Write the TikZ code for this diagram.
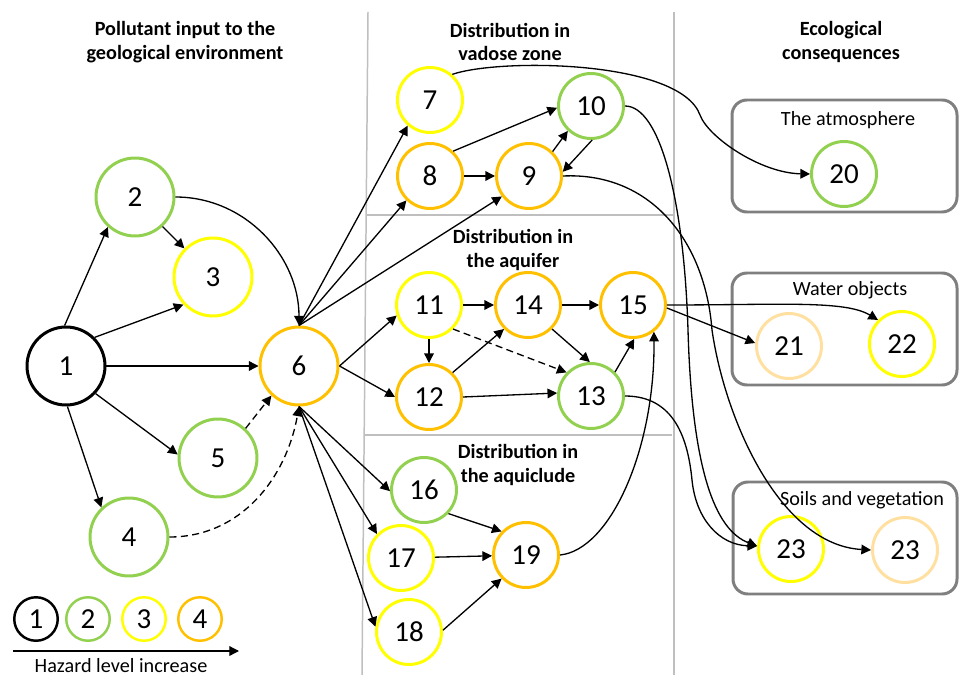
\documentclass[tikz,border=0pt]{standalone}
\usepackage{fontspec}
\setmainfont{Carlito}
\usetikzlibrary{arrows.meta}

\definecolor{hzgreen}{HTML}{92D050}
\definecolor{hzyellow}{HTML}{FFFF00}
\definecolor{hzorange}{HTML}{FFC000}
\definecolor{hzpale}{HTML}{FFE0A0}
\definecolor{boxgray}{HTML}{7F7F7F}
\definecolor{sepgray}{HTML}{BFBFBF}

\begin{document}
\begin{tikzpicture}[x=0.02cm, y=0.02cm,
    big/.style={circle, draw, line width=1.7pt, minimum size=1.56cm, inner sep=0pt, font=\fontsize{16.5}{18}\selectfont},
    mid/.style={big, minimum size=1.3cm},
    leg/.style={big, line width=1.4pt, minimum size=0.87cm},
    lvl1/.style={draw=black},
    lvl2/.style={draw=hzgreen},
    lvl3/.style={draw=hzyellow},
    lvl4/.style={draw=hzorange},
    pale/.style={draw=hzpale},
    edge/.style={-{Triangle[length=5.5pt,width=5.5pt]}, line width=0.75pt},
    weak/.style={edge, dash pattern=on 4pt off 2.5pt},
    heading/.style={align=center, font=\fontsize{11.5}{13.6}\selectfont\bfseries},
    boxlabel/.style={font=\fontsize{11.5}{13.6}\selectfont},
    zone/.style={draw=boxgray, line width=1.7pt, rounded corners=0.3cm},
    sep/.style={draw=sepgray, line width=0.85pt}]
    \useasboundingbox (0,0) rectangle (959,-675);
    % Columns
    \draw[sep] (368,-12) -- (362,-675);
    \draw[sep] (674,-12) -- (674,-675);
    \draw[sep] (367,-215) -- (673,-215);
    \draw[sep] (365,-435) -- (672,-435);
    \node[heading] (hinput) at (185,-42) {Pollutant input to the\\geological environment};
    \node[heading] (hvadose) at (510,-42) {Distribution in\\vadose zone};
    \node[heading] (hecol) at (841,-42) {Ecological\\consequences};
    \node[heading] (haquifer) at (513,-250) {Distribution in\\the aquifer};
    \node[heading] (haquiclude) at (518,-465) {Distribution in\\the aquiclude};
    % Receivers
    \draw[zone] (732,-100) rectangle (957,-212);
    \draw[zone] (732,-273) rectangle (957,-385);
    \draw[zone] (733,-482) rectangle (957,-594);
    \node[boxlabel] (atmo) at (848,-120) {The atmosphere};
    \node[boxlabel] (water) at (850,-290) {Water objects};
    \node[boxlabel] (soils) at (862,-500) {Soils and vegetation};
    % Nodes
    \node[big, lvl1] (1) at (66,-366) {1};
    \node[big, lvl2] (2) at (135,-197) {2};
    \node[big, lvl3] (3) at (213,-277) {3};
    \node[big, lvl2] (4) at (129,-537) {4};
    \node[big, lvl2] (5) at (218,-458) {5};
    \node[big, lvl4] (6) at (299,-366) {6};
    \node[mid, lvl3] (7) at (430,-100) {7};
    \node[mid, lvl4] (8) at (430,-176) {8};
    \node[mid, lvl4] (9) at (529,-176) {9};
    \node[mid, lvl2] (10) at (591,-106) {10};
    \node[mid, lvl3] (11) at (429,-305) {11};
    \node[mid, lvl4] (12) at (429,-397) {12};
    \node[mid, lvl2] (13) at (591,-396) {13};
    \node[mid, lvl4] (14) at (528,-305) {14};
    \node[mid, lvl4] (15) at (633,-305) {15};
    \node[mid, lvl2] (16) at (424,-490) {16};
    \node[mid, lvl3] (17) at (401,-558) {17};
    \node[mid, lvl3] (18) at (409,-632) {18};
    \node[mid, lvl4] (19) at (526,-555) {19};
    \node[mid, lvl2] (20) at (844,-174) {20};
    \node[mid, pale] (21) at (789,-346) {21};
    \node[mid, lvl3] (22) at (902,-344) {22};
    \node[mid, lvl3] (23a) at (791,-549) {23};
    \node[mid, pale] (23b) at (905,-550) {23};
    % Legend
    \node[leg, lvl1] (l1) at (36,-619) {1};
    \node[leg, lvl2] (l2) at (88,-619) {2};
    \node[leg, lvl3] (l3) at (144,-619) {3};
    \node[leg, lvl4] (l4) at (200,-619) {4};
    \coordinate (hzstart) at (13,-651);
    \coordinate (hzend) at (239,-651);
    \draw[edge] (hzstart) -- (hzend);
    \node[boxlabel, anchor=base] (hzlabel) at (121,-672) {Hazard level increase};
    % Edges
    \draw[edge] (1.92) -- (2.228);
    \draw[edge] (1.45) -- (3.223);
    \draw[edge] (1) -- (6);
    \draw[edge] (1.-43) -- (5.175);
    \draw[edge] (1.-88) -- (4.133);
    \draw[edge] (2.-47) -- (3.135);
    \draw[edge] (2.east) to[out=0,in=90] (6.north);
    \draw[weak] (5.47) -- (6.227);
    \draw[weak] (4.east) to[out=0,in=-100] (6.south);
    \draw[edge] (6.north) -- (7.229);
    \draw[edge] (6.north) -- (8.226);
    \draw[edge] (6.north) -- (9.217);
    \draw[edge] (6.east) -- (11.198);
    \draw[edge] (6.east) -- (12.west);
    \draw[edge] (6.south) -- (16.182);
    \draw[edge] (6.south) -- (17.135);
    \draw[edge] (6.south) -- (18.171);
    \draw[edge] (8.47) -- (10.183);
    \draw[edge] (8) -- (9);
    \draw[edge] (9.46) -- (10.227);
    \draw[edge] (10.-88) -- (9.7);
    \draw[edge] (7.49) .. controls (500,-58) and (680,-60) .. (700,-115)
        .. controls (708,-137) and (760,-173) .. (20.west);
    \draw[edge] (10.east) .. controls (660,-106) and (684,-200) .. (688,-330)
        .. controls (692,-470) and (715,-530) .. (23a.175);
    \draw[edge] (9.east) .. controls (650,-172) and (705,-240) .. (712,-330)
        .. controls (725,-420) and (780,-545) .. (23b.west);
    \draw[edge] (11) -- (14);
    \draw[edge] (11) -- (12);
    \draw[weak] (11.-45) -- (13.136);
    \draw[edge] (12.46) -- (14.225);
    \draw[edge] (12.east) -- (13.175);
    \draw[edge] (14.-45) -- (13.92);
    \draw[edge] (14) -- (15);
    \draw[edge] (13.45) -- (15.-88);
    \draw[edge] (13.east) .. controls (675,-396) and (688,-440) .. (692,-480)
        .. controls (696,-520) and (720,-545) .. (23a.175);
    \draw[edge] (15.-5) -- (21.175);
    \draw[edge] (15.east) .. controls (780,-305) and (845,-300) .. (22.135);
    \draw[edge] (16.-44) -- (19.136);
    \draw[edge] (17) -- (19);
    \draw[edge] (18.3) -- (19.224);
    \draw[edge] (19.east) .. controls (610,-550) and (655,-450) .. (15.-52);
\end{tikzpicture}
\end{document}
